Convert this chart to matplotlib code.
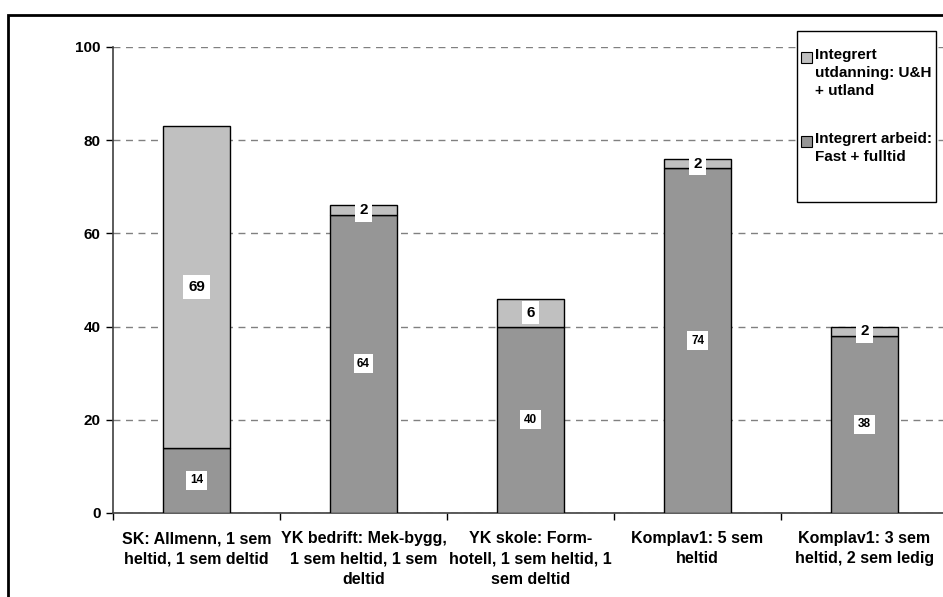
import matplotlib
matplotlib.use('Agg')
from matplotlib import pyplot as plt
from matplotlib.patches import Rectangle
import numpy as np

plt.rcParams['font.family'] = ['Liberation Sans', 'DejaVu Sans']
plt.rcParams['font.weight'] = 'bold'

CATEGORIES = [
    'SK: Allmenn, 1 sem\nheltid, 1 sem deltid',
    'YK bedrift: Mek-bygg,\n1 sem heltid, 1 sem\ndeltid',
    'YK skole: Form-\nhotell, 1 sem heltid, 1\nsem deltid',
    'Komplav1: 5 sem\nheltid',
    'Komplav1: 3 sem\nheltid, 2 sem ledig',
]
ARBEID = [14, 64, 40, 74, 38]
UTDANNING = [69, 2, 6, 2, 2]
LABEL_ARBEID = 'Integrert arbeid:\nFast + fulltid'
LABEL_UTDANNING = 'Integrert\nutdanning: U&H\n+ utland'

DARK = '#969696'
LIGHT = '#c0c0c0'

W, H = 943, 597
fig = plt.figure(figsize=(W / 100, H / 100), dpi=100)
ax = fig.add_axes([113 / W, 1 - 513 / H, 835 / W, 466 / H])

x = np.arange(len(CATEGORIES))
bw = 0.4
ax.bar(x, ARBEID, bw, color=DARK, edgecolor='black', linewidth=1.0, zorder=3)
ax.bar(x, UTDANNING, bw, bottom=ARBEID, color=LIGHT, edgecolor='black',
       linewidth=1.0, zorder=3)

box = dict(boxstyle='square,pad=0.3', facecolor='white', edgecolor='none')
for xi, a, u in zip(x, ARBEID, UTDANNING):
    ax.text(xi, a / 2, str(a), ha='center', va='center', fontsize=8.5,
            fontweight='bold', bbox=box, zorder=5)
    ax.text(xi, a + u / 2, str(u), ha='center', va='center', fontsize=11,
            fontweight='bold', bbox=box, zorder=5)

ax.set_xlim(-0.5, len(CATEGORIES) - 0.5)
ax.set_ylim(0, 100)
ax.set_yticks([0, 20, 40, 60, 80, 100])
ax.yaxis.grid(True, linestyle=(0, (5, 4)), color='#808080', linewidth=1.0, zorder=0)
ax.tick_params(axis='y', direction='out', length=5, width=1, labelsize=11, pad=4)

ax.set_xticks(x)
ax.set_xticklabels(CATEGORIES, fontsize=11.5, fontweight='bold', linespacing=1.45)
ax.set_xticks(np.arange(len(CATEGORIES) + 1) - 0.5, minor=True)
ax.tick_params(axis='x', which='major', length=0, pad=13)
ax.tick_params(axis='x', which='minor', direction='out', length=5, width=1)

for s in ['top', 'right']:
    ax.spines[s].set_visible(False)
for s in ['left', 'bottom']:
    ax.spines[s].set_color('#404040')
    ax.spines[s].set_linewidth(1.2)
for lbl in ax.get_yticklabels():
    lbl.set_fontweight('bold')


# legend box, handles aligned with the first line of each label
def fx(px):
    return px / W


def fy(py):
    return 1 - py / H


fig.add_artist(Rectangle((fx(797), fy(202)), fx(936) - fx(797), fy(31) - fy(202),
                         transform=fig.transFigure, facecolor='white',
                         edgecolor='black', linewidth=1.0, zorder=6))
for top, color, label in [(52, LIGHT, LABEL_UTDANNING), (136, DARK, LABEL_ARBEID)]:
    fig.add_artist(Rectangle((fx(801), fy(top + 11)), fx(11), 11 / H,
                             transform=fig.transFigure, facecolor=color,
                             edgecolor='black', linewidth=0.8, zorder=7))
    fig.text(fx(815), fy(top - 4), label, ha='left', va='top', fontsize=11,
             fontweight='bold', linespacing=1.38, zorder=7)

# outer chart frame
fig.add_artist(Rectangle((8 / W, -0.1), 1.2, 1 - 15 / H + 0.1,
                         transform=fig.transFigure, fill=False,
                         edgecolor='black', linewidth=2))

fig.savefig('out.png', dpi=100)
